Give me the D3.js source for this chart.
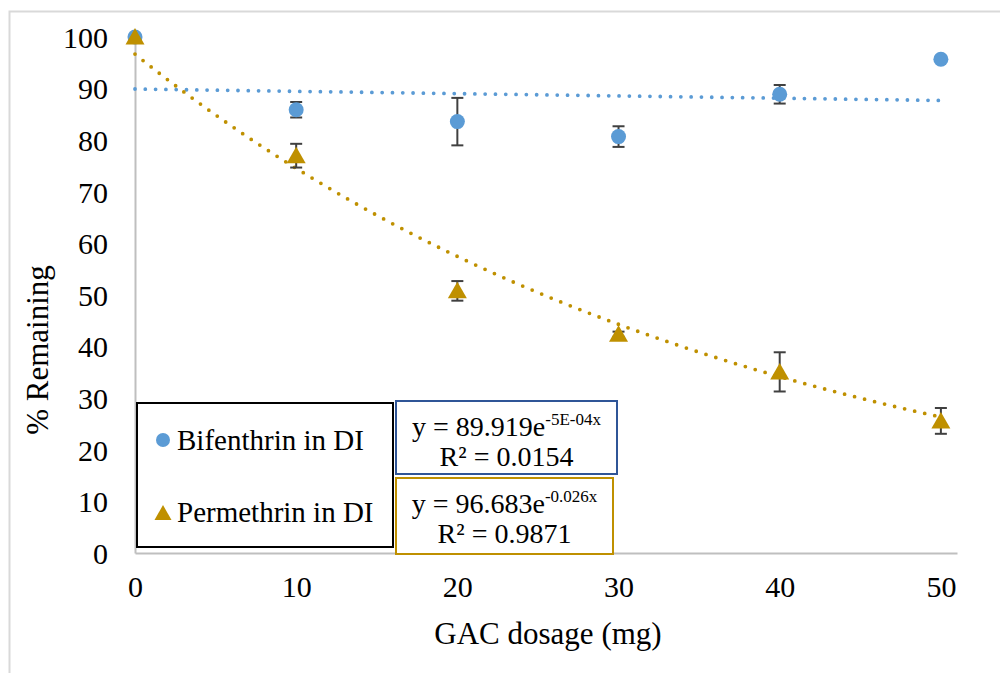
<!DOCTYPE html>
<html>
<head>
<meta charset="utf-8">
<script src="https://cdn.jsdelivr.net/npm/d3@7"></script>
<style>
  html, body { margin: 0; padding: 0; background: #fff; }
  svg text { font-family: "Liberation Serif", "Times New Roman", serif; fill: #000; }
</style>
</head>
<body>
<svg id="chart" width="1000" height="673"></svg>
<script>
// GAC dosage (mg)
const dosage = [0, 10, 20, 30, 40, 50];

// % remaining, mean and error (±)
const bifenthrin = [100, 85.9, 83.6, 80.7, 88.9, 95.7];
const bifenthrinErr = [0, 1.5, 4.6, 2.0, 1.8, 0];
const permethrin = [100, 77.0, 50.8, 42.4, 35.1, 25.6];
const permethrinErr = [0, 2.3, 1.9, 0.5, 3.8, 2.5];

// Exponential trendlines y = a·e^(b·x)
const bifenthrinFit = { a: 89.919, b: -5e-4, r2: "0.0154", bLabel: "-5E-04x" };
const permethrinFit = { a: 96.683, b: -0.026, r2: "0.9871", bLabel: "-0.026x" };

const xTicks = [0, 10, 20, 30, 40, 50];
const yTicks = [0, 10, 20, 30, 40, 50, 60, 70, 80, 90, 100];

const BLUE = "#5B9BD5";
const GOLD = "#BF9000";
const AXIS = "#BFBFBF";
const ERR = "#404040";

const svg = d3.select("#chart");

// outer chart frame
svg.append("rect")
  .attr("x", 9.5).attr("y", 11.5)
  .attr("width", 1010).attr("height", 700)
  .attr("fill", "#fff").attr("stroke", "#D9D9D9").attr("stroke-width", 2);

const x = d3.scaleLinear().domain([0, 51]).range([135, 957]);
const y = d3.scaleLinear().domain([0, 100]).range([553, 37]);

// axes (lines only, no tick marks)
const xAxis = svg.append("g").attr("transform", `translate(0,${y(0)})`)
  .call(d3.axisBottom(x).tickValues(xTicks).tickSize(0).tickPadding(44).tickFormat(d3.format("d")));
xAxis.select(".domain").attr("stroke", AXIS).attr("stroke-width", 2);
xAxis.selectAll("text").style("font-size", "30px").attr("dy", "0");

const yAxis = svg.append("g").attr("transform", `translate(${x(0)},0)`)
  .call(d3.axisLeft(y).tickValues(yTicks).tickSize(0).tickPadding(27).tickFormat(d3.format("d")));
yAxis.select(".domain").attr("stroke", AXIS).attr("stroke-width", 2);
yAxis.selectAll("text").style("font-size", "30px").attr("dy", "0.34em");

// axis titles
svg.append("text")
  .attr("x", 548).attr("y", 644)
  .attr("text-anchor", "middle")
  .style("font-size", "31px")
  .text("GAC dosage (mg)");

svg.append("text")
  .attr("transform", "translate(48,350) rotate(-90)")
  .attr("text-anchor", "middle")
  .style("font-size", "31px")
  .text("% Remaining");

// trendlines
function fitPoints(fit) {
  const pts = [];
  for (let i = 0; i <= 100; i++) {
    const xv = 50 * i / 100;
    pts.push([xv, fit.a * Math.exp(fit.b * xv)]);
  }
  return pts;
}
const line = d3.line().x(d => x(d[0])).y(d => y(d[1]));

[[bifenthrinFit, BLUE], [permethrinFit, GOLD]].forEach(([fit, col]) => {
  svg.append("path")
    .attr("d", line(fitPoints(fit)))
    .attr("fill", "none")
    .attr("stroke", col)
    .attr("stroke-width", 3.8)
    .attr("stroke-linecap", "round")
    .attr("stroke-dasharray", "0 10.3");
});

// error bars
function errorBars(vals, errs) {
  const g = svg.append("g").attr("stroke", ERR).attr("stroke-width", 2);
  dosage.forEach((d, i) => {
    if (!errs[i]) return;
    const cx = x(d), y1 = y(vals[i] + errs[i]), y2 = y(vals[i] - errs[i]);
    g.append("line").attr("x1", cx).attr("x2", cx).attr("y1", y1).attr("y2", y2);
    g.append("line").attr("x1", cx - 6).attr("x2", cx + 6).attr("y1", y1).attr("y2", y1);
    g.append("line").attr("x1", cx - 6).attr("x2", cx + 6).attr("y1", y2).attr("y2", y2);
  });
}
errorBars(bifenthrin, bifenthrinErr);
errorBars(permethrin, permethrinErr);

// markers
const triangle = "M0,-9L9.5,7.5L-9.5,7.5Z";

svg.append("g").selectAll("circle")
  .data(dosage.map((d, i) => [d, bifenthrin[i]]))
  .join("circle")
  .attr("cx", d => x(d[0])).attr("cy", d => y(d[1]))
  .attr("r", 7.5).attr("fill", BLUE);

svg.append("g").selectAll("path")
  .data(dosage.map((d, i) => [d, permethrin[i]]))
  .join("path")
  .attr("transform", d => `translate(${x(d[0])},${y(d[1])})`)
  .attr("d", triangle).attr("fill", GOLD);

// legend
const legend = svg.append("g");
legend.append("rect")
  .attr("x", 137).attr("y", 403).attr("width", 256).attr("height", 144)
  .attr("fill", "#fff").attr("stroke", "#000").attr("stroke-width", 2);
legend.append("circle").attr("cx", 163).attr("cy", 440).attr("r", 7).attr("fill", BLUE);
legend.append("text").attr("x", 177).attr("y", 450).style("font-size", "29px").text("Bifenthrin in DI");
legend.append("path").attr("transform", "translate(163,513)").attr("d", "M0,-8L8.5,7L-8.5,7Z").attr("fill", GOLD);
legend.append("text").attr("x", 177).attr("y", 522).style("font-size", "29px").text("Permethrin in DI");

// trendline equation boxes
function eqBox(fit, col, bx, by, bw, bh) {
  const g = svg.append("g");
  g.append("rect").attr("x", bx).attr("y", by).attr("width", bw).attr("height", bh)
    .attr("fill", "#fff").attr("stroke", col).attr("stroke-width", 2);
  const cx = bx + bw / 2;
  const t = g.append("text").attr("x", cx).attr("y", by + 35)
    .attr("text-anchor", "middle").style("font-size", "28px");
  t.append("tspan").text(`y = ${fit.a}e`);
  t.append("tspan").attr("dy", -11).style("font-size", "17px").text(fit.bLabel);
  g.append("text").attr("x", cx).attr("y", by + 65)
    .attr("text-anchor", "middle").style("font-size", "28px")
    .text(`R² = ${fit.r2}`);
}
eqBox(bifenthrinFit, "#2F5597", 396, 401, 221, 73);
eqBox(permethrinFit, GOLD, 396, 478, 217, 76);
</script>
</body>
</html>
